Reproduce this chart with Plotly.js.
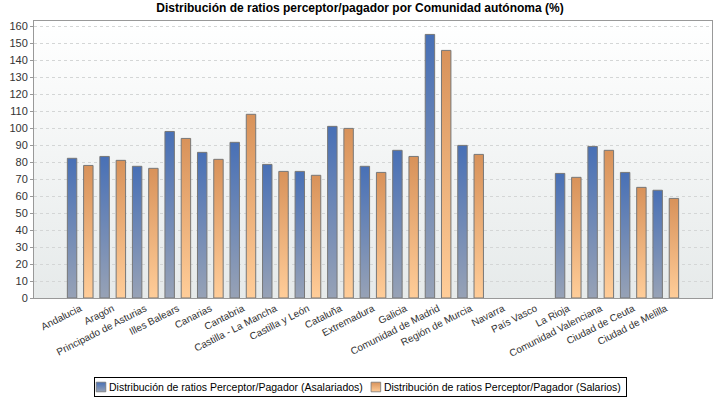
<!DOCTYPE html>
<html>
<head>
<meta charset="utf-8">
<script src="https://cdn.plot.ly/plotly-3.0.1.min.js"></script>
<style>html,body{margin:0;padding:0;background:#fff;}#chart{width:720px;height:400px;}</style>
</head>
<body>
<div id="chart"></div>
<script>
const categories = ["Andalucia","Aragón","Principado de Asturias","Illes Balears","Canarias","Cantabria","Castilla - La Mancha","Castilla y León","Cataluña","Extremadura","Galicia","Comunidad de Madrid","Región de Murcia","Navarra","País Vasco","La Rioja","Comunidad Valenciana","Ciudad de Ceuta","Ciudad de Melilla"];
const asalariados = [82.2,83.3,77.5,98.0,85.7,91.6,78.6,74.5,101.0,77.5,86.9,155.1,89.8,null,null,73.3,89.2,73.9,63.4];
const salarios = [78.0,81.0,76.3,93.9,81.6,108.1,74.5,72.2,99.8,73.9,83.3,145.7,84.5,null,null,71.0,86.9,65.1,58.6];
const seriesNames = ["Distribución de ratios Perceptor/Pagador (Asalariados)","Distribución de ratios Perceptor/Pagador (Salarios)"];
const yTicks = [0,10,20,30,40,50,60,70,80,90,100,110,120,130,140,150,160];

const traces = [
  {type:'bar', name:seriesNames[0], x:categories, y:asalariados,
   marker:{color:'#5f7db5', line:{color:'#777777', width:1}}},
  {type:'bar', name:seriesNames[1], x:categories, y:salarios,
   marker:{color:'#ebaa72', line:{color:'#777777', width:1}}}
];

const layout = {
  width:720, height:400,
  margin:{l:34, r:8, t:21, b:102},
  paper_bgcolor:'#ffffff', plot_bgcolor:'#f2f4f4',
  font:{family:'Liberation Sans, Arial, sans-serif', size:11, color:'#333'},
  title:{text:'<b>Distribución de ratios perceptor/pagador por Comunidad autónoma (%)</b>',
         x:0.5, xref:'container', xanchor:'center', y:0.98, yanchor:'middle',
         font:{family:'Liberation Sans, Arial, sans-serif', size:12, color:'#000'}},
  barmode:'group', bargap:0.0, bargroupgap:0.42,
  xaxis:{type:'category', range:[-1.42, 19.42], tickangle:-27,
         tickfont:{size:10, color:'#333'}, showgrid:false,
         showline:true, linecolor:'#999', mirror:true, ticks:'', fixedrange:true},
  yaxis:{range:[0,163], tickvals:yTicks, ticktext:yTicks.map(String),
         tickfont:{size:11, color:'#333'},
         showgrid:true, gridcolor:'#d4d6d6', griddash:'3px,3px', zeroline:false,
         showline:true, linecolor:'#999', mirror:true, ticks:'outside', ticklen:3, tickcolor:'#999'},
  showlegend:true,
  legend:{orientation:'h', xref:'container', yref:'container', x:0.5, xanchor:'center', y:0.06, yanchor:'top',
          bordercolor:'#000', borderwidth:1, bgcolor:'#fff',
          font:{family:'Liberation Sans, Arial, sans-serif', size:10.5, color:'#000'},
          itemwidth:30, traceorder:'normal'}
};

function addGradients(gd){
  const svg = gd.querySelector('svg.main-svg');
  const NS = 'http://www.w3.org/2000/svg';
  let defs = svg.querySelector('defs');
  if(!defs){defs = document.createElementNS(NS,'defs'); svg.insertBefore(defs, svg.firstChild);}
  function grad(id, top, bottom){
    const g = document.createElementNS(NS,'linearGradient');
    g.setAttribute('id', id); g.setAttribute('x1','0'); g.setAttribute('y1','0'); g.setAttribute('x2','0'); g.setAttribute('y2','1');
    const s1 = document.createElementNS(NS,'stop'); s1.setAttribute('offset','0'); s1.setAttribute('stop-color', top);
    const s2 = document.createElementNS(NS,'stop'); s2.setAttribute('offset','1'); s2.setAttribute('stop-color', bottom);
    g.appendChild(s1); g.appendChild(s2); defs.appendChild(g);
  }
  grad('gBlue','#4870b6','#97a2b6');
  grad('gOrange','#d8925a','#ffcd99');
  grad('gBg','#ffffff','#e6eaea');
  const bg = gd.querySelector('.bglayer rect.bg');
  if(bg) bg.style.fill = 'url(#gBg)';
  const tr = gd.querySelectorAll('.barlayer .trace');
  tr.forEach((t,i)=>{ t.querySelectorAll('path').forEach(p=>{ p.style.fill = i===0?'url(#gBlue)':'url(#gOrange)'; }); });

  // compact legend layout (swatch close to text, box snug)
  const leg = gd.querySelector('.legend');
  if(!leg) return;
  const items = leg.querySelectorAll('.traces');
  let x = 4;
  let last = 0;
  items.forEach((t,i)=>{
    t.querySelectorAll('.legendpoints path').forEach(p=>{ p.style.fill = i===0?'url(#gBlue)':'url(#gOrange)'; });
    const pts = t.querySelector('.legendpoints');
    if(pts) pts.setAttribute('transform','translate(-13,0) scale(0.8)');
    const txt = t.querySelector('.legendtext');
    txt.setAttribute('x', 11);
    const len = txt.getComputedTextLength();
    t.setAttribute('transform', 'translate(' + x + ',10)');
    last = x + 11 + len;
    x = last + 10;
  });
  const W = last + 5;
  const rect = leg.querySelector('rect.bg');
  rect.setAttribute('x', 0.5); rect.setAttribute('y', 0.5);
  rect.setAttribute('width', W); rect.setAttribute('height', 19);
  leg.setAttribute('transform', 'translate(' + Math.round(360 - W/2) + ',377)');
}

Plotly.newPlot('chart', traces, layout, {displayModeBar:false, staticPlot:true}).then(addGradients);
</script>
</body>
</html>
